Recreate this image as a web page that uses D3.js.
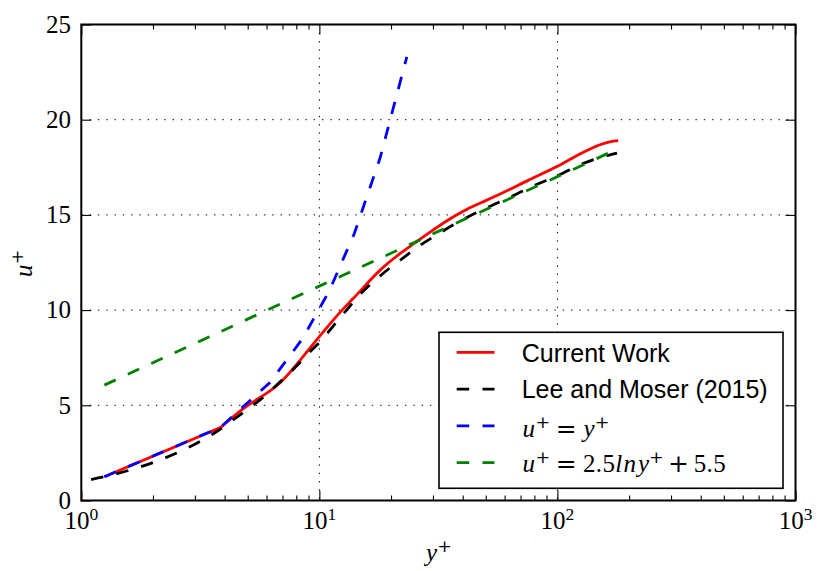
<!DOCTYPE html>
<html>
<head>
<meta charset="utf-8">
<script src="https://cdn.jsdelivr.net/npm/d3@7"></script>
<style>
  html, body { margin: 0; padding: 0; background: #fff; }
  svg { display: block; }
  .serif { font-family: "Liberation Serif", "Times New Roman", "DejaVu Serif", serif; }
  .opfont { font-family: "DejaVu Serif", "Liberation Serif", serif; }
  .sans { font-family: "Liberation Sans", Arial, Helvetica, sans-serif; }
</style>
</head>
<body>
<svg id="chart" width="820" height="571"></svg>
<script>
// Mean streamwise velocity in wall units, channel flow at Re_tau ~ 180

// Present simulation
const yPlusCurrent = [1.25, 3.84, 4.73, 6.86, 10, 12.45, 13.9, 18.0, 22.0, 25.0, 30.0, 36.0, 41.7, 50.0, 57.5, 75, 100, 128, 152, 166, 180];
const uPlusCurrent = [1.25, 3.83, 4.77, 6.2, 8.61, 10.0, 10.62, 12.1, 13.0, 13.5, 14.2, 14.85, 15.3, 15.75, 16.1, 16.8, 17.55, 18.28, 18.7, 18.84, 18.9];

// DNS reference, Lee and Moser (2015)
const yPlusLM = [1.1, 1.3, 1.6, 2.0, 2.5, 3.0, 3.6, 4.36, 5.0, 5.65, 6.6, 8.0, 9.2, 10, 11.5, 13, 15.3, 18, 22, 26.5, 32, 40, 50, 65, 80, 100, 128, 150, 178];
const uPlusLM = [1.1, 1.3, 1.6, 1.99, 2.48, 2.96, 3.52, 4.25, 4.8, 5.3, 6.05, 7.05, 7.85, 8.3, 9.2, 10.0, 11.0, 11.8, 12.65, 13.4, 14.05, 14.75, 15.35, 16.0, 16.55, 17.05, 17.7, 18.0, 18.25];

// Viscous sublayer, u+ = y+
const yPlusLinear = [1.25, 3.84, 6.2, 8.5, 11.0, 14.0, 18.0, 23.3];
const uPlusLinear = [1.25, 3.84, 6.2, 8.5, 11.0, 14.0, 18.0, 23.3];

// Log law, u+ = 2.5 ln y+ + 5.5
const yPlusLog = [1.25, 10, 100, 180];
const uPlusLog = [6.06, 11.26, 17.01, 18.48];

// Axis ticks
const xMajorTicks = [1, 10, 100, 1000];
const xTickExponents = ["0", "1", "2", "3"];
const yTicks = [0, 5, 10, 15, 20, 25];
const yTickLabels = ["0", "5", "10", "15", "20", "25"];
const xGridValues = [10, 100];
const yGridValues = [5, 10, 15, 20];

const DASH = "12.5,13.3";
const series = [
  { name: "Current Work", xs: yPlusCurrent, ys: uPlusCurrent, color: "#ff0000", dash: null, smooth: true, straightHead: true },
  { name: "Lee and Moser (2015)", xs: yPlusLM, ys: uPlusLM, color: "#000000", dash: DASH, smooth: true, straightHead: false },
  { name: "linear", xs: yPlusLinear, ys: uPlusLinear, color: "#0000ff", dash: DASH, smooth: false, straightHead: false },
  { name: "loglaw", xs: yPlusLog, ys: uPlusLog, color: "#008000", dash: DASH, smooth: false, straightHead: false }
];

const svg = d3.select("#chart");
const plotLeft = 81.3, plotRight = 795.5, plotTop = 24.5, plotBottom = 500.5;
const x = d3.scaleLog().domain([1, 1000]).range([plotLeft, plotRight]);
const y = d3.scaleLinear().domain([0, 25]).range([plotBottom, plotTop]);

const EM = 25;

// Math-style label: each glyph is placed on its own advance so spacing
// follows TeX-like metrics.
function mathLabel(g, pieces, anchor) {
  let cursor = 0;
  const laid = [];
  pieces.forEach(p => {
    const size = p.sup ? EM * 0.7 : EM;
    const w = p.adv * size;
    if (p.t) laid.push(Object.assign({}, p, { cx: cursor + w / 2, size }));
    cursor += w;
  });
  const shift = anchor === "middle" ? -cursor / 2 : anchor === "end" ? -cursor : 0;
  const text = g.append("text").attr("text-anchor", "middle").attr("fill", "#000");
  laid.forEach(p => {
    text.append("tspan")
      .attr("class", p.op ? "opfont" : "serif")
      .attr("x", p.cx + shift)
      .attr("y", p.sup ? -9 : 0)
      .style("font-size", p.size + "px")
      .style("font-style", p.it ? "italic" : "normal")
      .text(p.t);
  });
  return text;
}
const digit = (t, sup) => ({ t, adv: t === "." ? 0.278 : 0.5, sup });
const space = (adv) => ({ t: null, adv });

// Grid
const grid = svg.append("g").attr("stroke", "#000").attr("stroke-width", 1).attr("stroke-dasharray", "1.4,6.9");
grid.selectAll("line.gx").data(xGridValues).join("line").attr("class", "gx")
  .attr("x1", d => x(d)).attr("x2", d => x(d)).attr("y1", plotTop).attr("y2", plotBottom);
grid.selectAll("line.gy").data(yGridValues).join("line").attr("class", "gy")
  .attr("x1", plotLeft).attr("x2", plotRight).attr("y1", d => y(d)).attr("y2", d => y(d));

// Data lines: the wall-nearest segment of the simulation is a straight
// chord, the rest is a monotone spline through the samples.
const linearGen = d3.line().x(d => x(d[0])).y(d => y(d[1]));
const smoothGen = d3.line().curve(d3.curveMonotoneX).x(d => x(d[0])).y(d => y(d[1]));
function seriesPath(s) {
  const pts = s.xs.map((v, i) => [v, s.ys[i]]);
  if (!s.smooth) return linearGen(pts);
  if (s.straightHead) return linearGen(pts.slice(0, 2)) + smoothGen(pts.slice(1)).replace(/^M/, "L");
  return smoothGen(pts);
}
svg.append("g").selectAll("path").data(series).join("path")
  .attr("d", seriesPath)
  .attr("fill", "none")
  .attr("stroke", s => s.color)
  .attr("stroke-width", 2.8)
  .attr("stroke-dasharray", s => s.dash);

// Ticks on all four sides, pointing inward
const minorTicks = x.ticks().filter(v => !xMajorTicks.includes(v));
function tickStyle(g) {
  g.select(".domain").remove();
  g.selectAll("text").remove();
  g.selectAll(".tick line").attr("stroke", "#000").attr("stroke-width", 1.1);
}
svg.append("g").attr("transform", `translate(0,${plotBottom})`)
  .call(d3.axisBottom(x).tickValues(xMajorTicks).tickSize(-10).tickFormat("")).call(tickStyle);
svg.append("g").attr("transform", `translate(0,${plotBottom})`)
  .call(d3.axisBottom(x).tickValues(minorTicks).tickSize(-5).tickFormat("")).call(tickStyle);
svg.append("g").attr("transform", `translate(0,${plotTop})`)
  .call(d3.axisTop(x).tickValues(xMajorTicks).tickSize(-10).tickFormat("")).call(tickStyle);
svg.append("g").attr("transform", `translate(0,${plotTop})`)
  .call(d3.axisTop(x).tickValues(minorTicks).tickSize(-5).tickFormat("")).call(tickStyle);
svg.append("g").attr("transform", `translate(${plotLeft},0)`)
  .call(d3.axisLeft(y).tickValues(yTicks).tickSize(-10).tickFormat("")).call(tickStyle);
svg.append("g").attr("transform", `translate(${plotRight},0)`)
  .call(d3.axisRight(y).tickValues(yTicks).tickSize(-10).tickFormat("")).call(tickStyle);

// Frame
svg.append("rect").attr("x", plotLeft).attr("y", plotTop)
  .attr("width", plotRight - plotLeft).attr("height", plotBottom - plotTop)
  .attr("fill", "none").attr("stroke", "#000").attr("stroke-width", 2);

// X tick labels, 10^n
xMajorTicks.forEach((v, i) => {
  const g = svg.append("g").attr("transform", `translate(${x(v)},529)`);
  mathLabel(g, [digit("1"), digit("0"), digit(xTickExponents[i], true)], "middle");
});

// Y tick labels
svg.append("g").selectAll("text").data(yTicks).join("text")
  .attr("class", "serif")
  .attr("x", 71).attr("y", d => y(d) + 8.3)
  .attr("text-anchor", "end")
  .style("font-size", EM + "px").attr("fill", "#000")
  .text((d, i) => yTickLabels[i]);

// Axis titles
mathLabel(svg.append("g").attr("transform", `translate(${(plotLeft + plotRight) / 2},561)`),
  [{ t: "y", it: true, adv: 0.49 }, { t: "+", op: true, sup: true, adv: 0.778 }], "middle");
mathLabel(svg.append("g").attr("transform", `translate(31.7,264) rotate(-90)`),
  [{ t: "u", it: true, adv: 0.572 }, { t: "+", op: true, sup: true, adv: 0.778 }], "middle");

// Legend
const lg = svg.append("g");
lg.append("rect").attr("x", 439).attr("y", 332.3).attr("width", 344).attr("height", 156)
  .attr("fill", "#fff").attr("stroke", "#000").attr("stroke-width", 1.6);
const rowY = [352.3, 389.1, 425.9, 462.7];
const baseOff = [9.3, 9.3, 11, 9.3];
series.forEach((s, i) => {
  lg.append("line").attr("x1", 456.7).attr("x2", 494.5).attr("y1", rowY[i]).attr("y2", rowY[i])
    .attr("stroke", s.color).attr("stroke-width", 2.8).attr("stroke-dasharray", s.dash);
});
[0, 1].forEach(i => {
  lg.append("text").attr("class", "sans").attr("x", 521.7).attr("y", rowY[i] + baseOff[i])
    .style("font-size", EM + "px").attr("fill", "#000").text(series[i].name);
});
const uSup = [{ t: "u", it: true, adv: 0.572 }, { t: "+", op: true, sup: true, adv: 0.778 }];
const eq = [space(0.278), { t: "=", op: true, adv: 0.778 }, space(0.278)];
mathLabel(lg.append("g").attr("transform", `translate(521.7,${rowY[2] + baseOff[2]})`),
  [...uSup, ...eq, { t: "y", it: true, adv: 0.49 }, { t: "+", op: true, sup: true, adv: 0.778 }], "start");
mathLabel(lg.append("g").attr("transform", `translate(521.7,${rowY[3] + baseOff[3]})`),
  [...uSup, ...eq, digit("2"), digit("."), digit("5"),
   { t: "l", it: true, adv: 0.298 }, { t: "n", it: true, adv: 0.6 }, { t: "y", it: true, adv: 0.49 },
   { t: "+", op: true, sup: true, adv: 0.778 },
   space(0.222), { t: "+", op: true, adv: 0.778 }, space(0.222),
   digit("5"), digit("."), digit("5")], "start");
</script>
</body>
</html>
